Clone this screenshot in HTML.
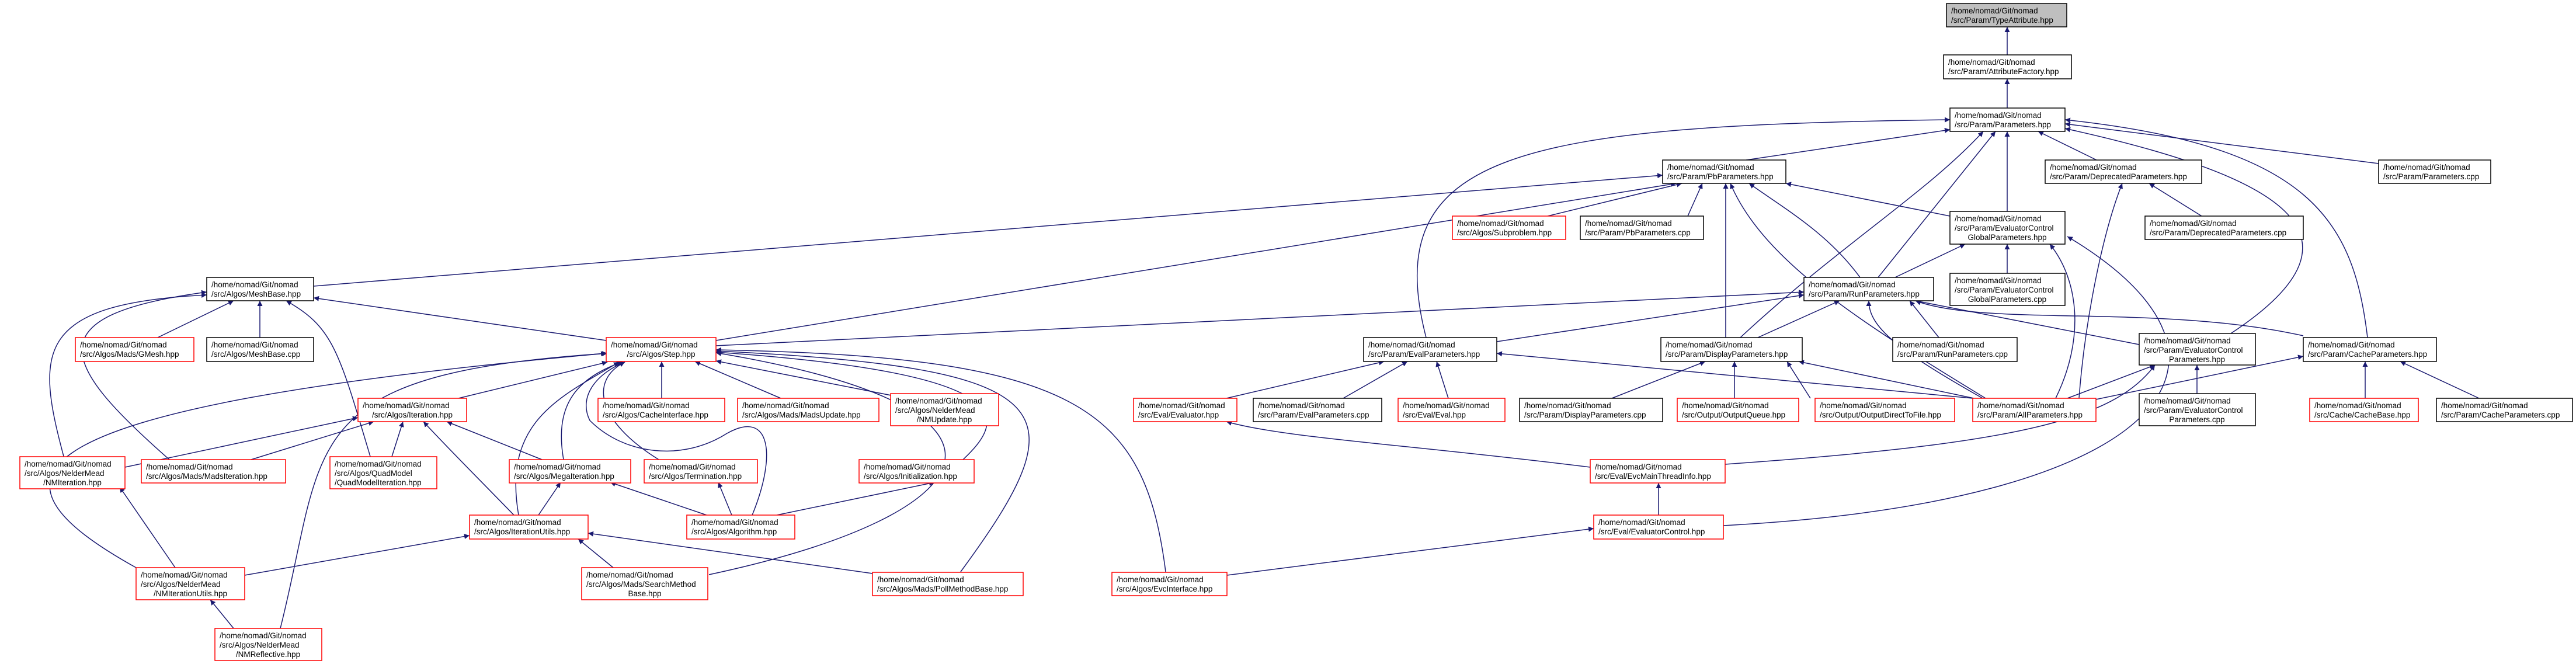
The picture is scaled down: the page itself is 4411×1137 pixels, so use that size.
<!DOCTYPE html>
<html><head><meta charset="utf-8"><style>
html,body{margin:0;padding:0;background:#fff;width:4411px;height:1137px;overflow:hidden}
svg{display:block}
text{font-family:"Liberation Sans",sans-serif;font-size:13.5px;fill:#000}
.b rect{fill:#fff;stroke:#000;stroke-width:1.5}
.r rect{fill:#fff;stroke:#f00;stroke-width:1.5}
.e path{fill:none;stroke:#191970;stroke-width:1.5;marker-end:url(#a)}
</style></head><body>
<svg width="4411" height="1137" viewBox="0 0 4411 1137" xmlns="http://www.w3.org/2000/svg">
<defs><marker id="a" viewBox="0 0 10 10" refX="10" refY="5" markerWidth="9" markerHeight="9" markerUnits="userSpaceOnUse" orient="auto"><path d="M0,0 L10,5 L0,10 z" fill="#191970"/></marker></defs>
<g class="e">
<path d="M3437,94 L3437,46"/>
<path d="M3437,185 L3437,135"/>
<path d="M2990,274 L3339,222"/>
<path d="M2442,578 C2360,260 2600,215 3339,205"/>
<path d="M2980,578 C3150,420 3300,330 3396,225"/>
<path d="M3216,475 L3417,225"/>
<path d="M3437,362 L3437,225"/>
<path d="M3590,274 L3490,225"/>
<path d="M4073,280 L3536,212"/>
<path d="M4054,578 C4030,380 3960,250 3536,205"/>
<path d="M3820,571 C4080,400 3900,300 3536,220"/>
<path d="M537,490 L2847,300"/>
<path d="M1226,583 L2870,314"/>
<path d="M2650,370 L2880,314"/>
<path d="M2890,370 L2915,314"/>
<path d="M3339,370 L3058,314"/>
<path d="M3185,475 C3130,400 3060,360 2995,314"/>
<path d="M2955,578 L2955,314"/>
<path d="M3400,682 C3200,560 3020,450 2963,314"/>
<path d="M3245,475 L3365,418"/>
<path d="M3437,468 L3437,418"/>
<path d="M3520,682 C3570,580 3560,480 3510,418"/>
<path d="M2951,900 C3700,860 3900,620 3540,405"/>
<path d="M3560,682 C3570,550 3600,400 3634,314"/>
<path d="M3770,370 L3680,314"/>
<path d="M1226,592 L3089,500"/>
<path d="M2563,585 L3089,505"/>
<path d="M3010,578 L3150,515"/>
<path d="M3320,578 L3270,515"/>
<path d="M3395,682 C3250,600 3200,560 3200,515"/>
<path d="M3663,590 L3280,515"/>
<path d="M3944,575 C3700,520 3400,560 3280,515"/>
<path d="M2100,682 L2370,619"/>
<path d="M2300,682 L2410,619"/>
<path d="M2480,682 L2460,619"/>
<path d="M3378,682 L2563,605"/>
<path d="M2760,682 L2920,619"/>
<path d="M2970,682 L2970,619"/>
<path d="M3100,682 L3060,619"/>
<path d="M3380,682 L3080,619"/>
<path d="M3540,682 L3690,625"/>
<path d="M3762,674 L3762,625"/>
<path d="M2954,795 C3450,760 3620,720 3690,625"/>
<path d="M3560,690 L3944,610"/>
<path d="M4050,682 L4050,619"/>
<path d="M4245,682 L4110,619"/>
<path d="M2723,800 C2400,760 2200,750 2100,722"/>
<path d="M2840,882 L2840,827"/>
<path d="M2101,985 L2729,905"/>
<path d="M270,578 L400,515"/>
<path d="M445,578 L445,515"/>
<path d="M1038,583 L537,510"/>
<path d="M110,785 C60,600 60,520 354,505"/>
<path d="M290,787 C100,620 60,540 354,500"/>
<path d="M635,785 C580,600 570,560 490,515"/>
<path d="M785,682 L1040,620"/>
<path d="M233,972 C-40,820 -20,700 1038,605"/>
<path d="M480,1076 C560,760 500,640 1040,605"/>
<path d="M888,882 C860,720 960,680 1060,620"/>
<path d="M965,787 C950,700 980,650 1065,620"/>
<path d="M1128,787 C1020,720 1010,650 1070,620"/>
<path d="M1288,882 C1330,780 1320,700 1245,742 C1170,790 1070,780 1010,720 C990,680 1020,640 1070,620"/>
<path d="M1133,682 L1133,619"/>
<path d="M1337,682 L1190,619"/>
<path d="M1526,677 L1226,618"/>
<path d="M1649,787 C1720,720 1760,640 1226,603"/>
<path d="M1214,984 C1700,880 1800,700 1226,604"/>
<path d="M1645,979 C1850,700 1830,630 1226,601"/>
<path d="M1996,979 C1960,700 1850,610 1226,599"/>
<path d="M214,800 L613,715"/>
<path d="M430,787 L640,722"/>
<path d="M670,785 L690,722"/>
<path d="M928,787 L765,722"/>
<path d="M880,882 C800,800 760,760 725,722"/>
<path d="M922,882 L960,826"/>
<path d="M1210,882 L1045,826"/>
<path d="M1253,882 L1230,826"/>
<path d="M1330,882 L1600,826"/>
<path d="M419,985 L804,917"/>
<path d="M1050,972 L990,923"/>
<path d="M1494,982 L1007,913"/>
<path d="M300,972 L205,834"/>
<path d="M400,1076 L360,1027"/>
</g>
<g class="b"><rect x="3333" y="6" width="206" height="40" style="fill:#bfbfbf"/><text x="3341" y="23">/home/nomad/Git/nomad</text><text x="3341" y="39">/src/Param/TypeAttribute.hpp</text></g>
<g class="b"><rect x="3328" y="94" width="219" height="41"/><text x="3336" y="111">/home/nomad/Git/nomad</text><text x="3336" y="127">/src/Param/AttributeFactory.hpp</text></g>
<g class="b"><rect x="3339" y="185" width="197" height="40"/><text x="3347" y="202">/home/nomad/Git/nomad</text><text x="3347" y="218">/src/Param/Parameters.hpp</text></g>
<g class="b"><rect x="2847" y="274" width="211" height="40"/><text x="2855" y="291">/home/nomad/Git/nomad</text><text x="2855" y="307">/src/Param/PbParameters.hpp</text></g>
<g class="b"><rect x="3502" y="274" width="268" height="40"/><text x="3510" y="291">/home/nomad/Git/nomad</text><text x="3510" y="307">/src/Param/DeprecatedParameters.hpp</text></g>
<g class="b"><rect x="4073" y="274" width="192" height="40"/><text x="4081" y="291">/home/nomad/Git/nomad</text><text x="4081" y="307">/src/Param/Parameters.cpp</text></g>
<g class="r"><rect x="2487" y="370" width="194" height="40"/><text x="2495" y="387">/home/nomad/Git/nomad</text><text x="2495" y="403">/src/Algos/Subproblem.hpp</text></g>
<g class="b"><rect x="2706" y="370" width="211" height="40"/><text x="2714" y="387">/home/nomad/Git/nomad</text><text x="2714" y="403">/src/Param/PbParameters.cpp</text></g>
<g class="b"><rect x="3339" y="362" width="197" height="56"/><text x="3347" y="379">/home/nomad/Git/nomad</text><text x="3347" y="395">/src/Param/EvaluatorControl</text><text x="3437" y="411" text-anchor="middle">GlobalParameters.hpp</text></g>
<g class="b"><rect x="3673" y="370" width="271" height="40"/><text x="3681" y="387">/home/nomad/Git/nomad</text><text x="3681" y="403">/src/Param/DeprecatedParameters.cpp</text></g>
<g class="b"><rect x="354" y="475" width="183" height="40"/><text x="362" y="492">/home/nomad/Git/nomad</text><text x="362" y="508">/src/Algos/MeshBase.hpp</text></g>
<g class="b"><rect x="3089" y="475" width="222" height="40"/><text x="3097" y="492">/home/nomad/Git/nomad</text><text x="3097" y="508">/src/Param/RunParameters.hpp</text></g>
<g class="b"><rect x="3339" y="468" width="197" height="55"/><text x="3347" y="485">/home/nomad/Git/nomad</text><text x="3347" y="501">/src/Param/EvaluatorControl</text><text x="3437" y="517" text-anchor="middle">GlobalParameters.cpp</text></g>
<g class="r"><rect x="129" y="578" width="203" height="41"/><text x="137" y="595">/home/nomad/Git/nomad</text><text x="137" y="611">/src/Algos/Mads/GMesh.hpp</text></g>
<g class="b"><rect x="354" y="578" width="183" height="41"/><text x="362" y="595">/home/nomad/Git/nomad</text><text x="362" y="611">/src/Algos/MeshBase.cpp</text></g>
<g class="r"><rect x="1038" y="578" width="188" height="41"/><text x="1046" y="595">/home/nomad/Git/nomad</text><text x="1132" y="611" text-anchor="middle">/src/Algos/Step.hpp</text></g>
<g class="b"><rect x="2335" y="578" width="228" height="41"/><text x="2343" y="595">/home/nomad/Git/nomad</text><text x="2343" y="611">/src/Param/EvalParameters.hpp</text></g>
<g class="b"><rect x="2844" y="578" width="242" height="41"/><text x="2852" y="595">/home/nomad/Git/nomad</text><text x="2852" y="611">/src/Param/DisplayParameters.hpp</text></g>
<g class="b"><rect x="3241" y="578" width="213" height="41"/><text x="3249" y="595">/home/nomad/Git/nomad</text><text x="3249" y="611">/src/Param/RunParameters.cpp</text></g>
<g class="b"><rect x="3663" y="571" width="199" height="54"/><text x="3671" y="588">/home/nomad/Git/nomad</text><text x="3671" y="604">/src/Param/EvaluatorControl</text><text x="3762" y="620" text-anchor="middle">Parameters.hpp</text></g>
<g class="b"><rect x="3944" y="578" width="228" height="41"/><text x="3952" y="595">/home/nomad/Git/nomad</text><text x="3952" y="611">/src/Param/CacheParameters.hpp</text></g>
<g class="r"><rect x="613" y="682" width="186" height="40"/><text x="621" y="699">/home/nomad/Git/nomad</text><text x="706" y="715" text-anchor="middle">/src/Algos/Iteration.hpp</text></g>
<g class="r"><rect x="1024" y="682" width="217" height="40"/><text x="1032" y="699">/home/nomad/Git/nomad</text><text x="1032" y="715">/src/Algos/CacheInterface.hpp</text></g>
<g class="r"><rect x="1263" y="682" width="242" height="40"/><text x="1271" y="699">/home/nomad/Git/nomad</text><text x="1271" y="715">/src/Algos/Mads/MadsUpdate.hpp</text></g>
<g class="r"><rect x="1525" y="674" width="185" height="55"/><text x="1533" y="691">/home/nomad/Git/nomad</text><text x="1533" y="707">/src/Algos/NelderMead</text><text x="1617" y="723" text-anchor="middle">/NMUpdate.hpp</text></g>
<g class="r"><rect x="1941" y="682" width="177" height="40"/><text x="1949" y="699">/home/nomad/Git/nomad</text><text x="1949" y="715">/src/Eval/Evaluator.hpp</text></g>
<g class="b"><rect x="2146" y="682" width="220" height="40"/><text x="2154" y="699">/home/nomad/Git/nomad</text><text x="2154" y="715">/src/Param/EvalParameters.cpp</text></g>
<g class="r"><rect x="2394" y="682" width="183" height="40"/><text x="2402" y="699">/home/nomad/Git/nomad</text><text x="2402" y="715">/src/Eval/Eval.hpp</text></g>
<g class="b"><rect x="2602" y="682" width="245" height="40"/><text x="2610" y="699">/home/nomad/Git/nomad</text><text x="2610" y="715">/src/Param/DisplayParameters.cpp</text></g>
<g class="r"><rect x="2872" y="682" width="208" height="40"/><text x="2880" y="699">/home/nomad/Git/nomad</text><text x="2880" y="715">/src/Output/OutputQueue.hpp</text></g>
<g class="r"><rect x="3108" y="682" width="239" height="40"/><text x="3116" y="699">/home/nomad/Git/nomad</text><text x="3116" y="715">/src/Output/OutputDirectToFile.hpp</text></g>
<g class="r"><rect x="3378" y="682" width="211" height="40"/><text x="3386" y="699">/home/nomad/Git/nomad</text><text x="3386" y="715">/src/Param/AllParameters.hpp</text></g>
<g class="b"><rect x="3663" y="674" width="199" height="55"/><text x="3671" y="691">/home/nomad/Git/nomad</text><text x="3671" y="707">/src/Param/EvaluatorControl</text><text x="3762" y="723" text-anchor="middle">Parameters.cpp</text></g>
<g class="r"><rect x="3955" y="682" width="186" height="40"/><text x="3963" y="699">/home/nomad/Git/nomad</text><text x="3963" y="715">/src/Cache/CacheBase.hpp</text></g>
<g class="b"><rect x="4172" y="682" width="233" height="40"/><text x="4180" y="699">/home/nomad/Git/nomad</text><text x="4180" y="715">/src/Param/CacheParameters.cpp</text></g>
<g class="r"><rect x="34" y="782" width="180" height="55"/><text x="42" y="799">/home/nomad/Git/nomad</text><text x="42" y="815">/src/Algos/NelderMead</text><text x="124" y="831" text-anchor="middle">/NMIteration.hpp</text></g>
<g class="r"><rect x="242" y="787" width="247" height="40"/><text x="250" y="804">/home/nomad/Git/nomad</text><text x="250" y="820">/src/Algos/Mads/MadsIteration.hpp</text></g>
<g class="r"><rect x="565" y="782" width="183" height="55"/><text x="573" y="799">/home/nomad/Git/nomad</text><text x="573" y="815">/src/Algos/QuadModel</text><text x="573" y="831">/QuadModelIteration.hpp</text></g>
<g class="r"><rect x="872" y="787" width="208" height="40"/><text x="880" y="804">/home/nomad/Git/nomad</text><text x="880" y="820">/src/Algos/MegaIteration.hpp</text></g>
<g class="r"><rect x="1103" y="787" width="194" height="40"/><text x="1111" y="804">/home/nomad/Git/nomad</text><text x="1111" y="820">/src/Algos/Termination.hpp</text></g>
<g class="r"><rect x="1471" y="787" width="197" height="40"/><text x="1479" y="804">/home/nomad/Git/nomad</text><text x="1479" y="820">/src/Algos/Initialization.hpp</text></g>
<g class="r"><rect x="2723" y="787" width="231" height="40"/><text x="2731" y="804">/home/nomad/Git/nomad</text><text x="2731" y="820">/src/Eval/EvcMainThreadInfo.hpp</text></g>
<g class="r"><rect x="804" y="882" width="203" height="41"/><text x="812" y="899">/home/nomad/Git/nomad</text><text x="812" y="915">/src/Algos/IterationUtils.hpp</text></g>
<g class="r"><rect x="1176" y="882" width="185" height="41"/><text x="1184" y="899">/home/nomad/Git/nomad</text><text x="1184" y="915">/src/Algos/Algorithm.hpp</text></g>
<g class="r"><rect x="2729" y="882" width="222" height="41"/><text x="2737" y="899">/home/nomad/Git/nomad</text><text x="2737" y="915">/src/Eval/EvaluatorControl.hpp</text></g>
<g class="r"><rect x="233" y="972" width="186" height="55"/><text x="241" y="989">/home/nomad/Git/nomad</text><text x="241" y="1005">/src/Algos/NelderMead</text><text x="326" y="1021" text-anchor="middle">/NMIterationUtils.hpp</text></g>
<g class="r"><rect x="996" y="972" width="216" height="55"/><text x="1004" y="989">/home/nomad/Git/nomad</text><text x="1004" y="1005">/src/Algos/Mads/SearchMethod</text><text x="1104" y="1021" text-anchor="middle">Base.hpp</text></g>
<g class="r"><rect x="1494" y="980" width="258" height="40"/><text x="1502" y="997">/home/nomad/Git/nomad</text><text x="1502" y="1013">/src/Algos/Mads/PollMethodBase.hpp</text></g>
<g class="r"><rect x="1904" y="980" width="197" height="40"/><text x="1912" y="997">/home/nomad/Git/nomad</text><text x="1912" y="1013">/src/Algos/EvcInterface.hpp</text></g>
<g class="r"><rect x="368" y="1076" width="183" height="55"/><text x="376" y="1093">/home/nomad/Git/nomad</text><text x="376" y="1109">/src/Algos/NelderMead</text><text x="459" y="1125" text-anchor="middle">/NMReflective.hpp</text></g>
</svg>
</body></html>
